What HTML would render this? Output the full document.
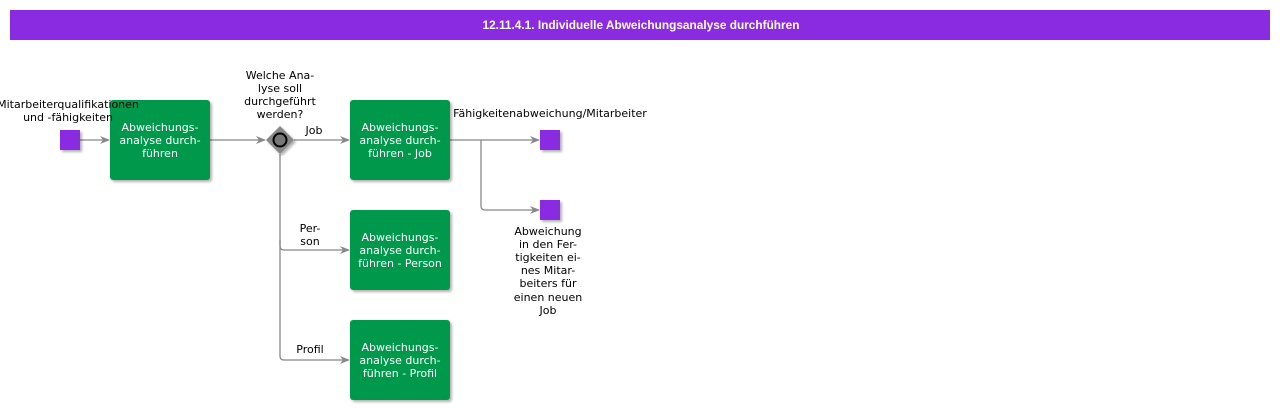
<!DOCTYPE html>
<html><head><meta charset="utf-8"><style>
html,body{margin:0;padding:0;background:#fff;width:1280px;height:410px;overflow:hidden}
svg text{font-family:"DejaVu Sans","Liberation Sans",sans-serif;font-size:11px}
</style></head><body>
<svg width="1280" height="410" xmlns="http://www.w3.org/2000/svg">
<defs>
<filter id="sh" x="-20%" y="-20%" width="150%" height="150%"><feDropShadow dx="2" dy="2" stdDeviation="1.2" flood-color="#000" flood-opacity="0.3"/></filter>
<marker id="ar" markerWidth="10" markerHeight="8" refX="9" refY="4" orient="auto" markerUnits="userSpaceOnUse"><path d="M0,0 L10,4 L0,8 L3,4 z" fill="#888"/></marker>
</defs>
<rect x="10" y="10" width="1260" height="30" fill="#8a2be2"/>
<text x="641" y="29" text-anchor="middle" fill="#fff" style="font-family:'Liberation Sans',sans-serif;font-weight:bold;font-size:12px" textLength="317" lengthAdjust="spacingAndGlyphs">12.11.4.1. Individuelle Abweichungsanalyse durchführen</text>

<g stroke="#888" stroke-width="1.3" fill="none">
<line x1="80" y1="140" x2="109" y2="140" marker-end="url(#ar)"/>
<line x1="210" y1="140" x2="265" y2="140" marker-end="url(#ar)"/>
<line x1="294" y1="140" x2="349" y2="140" marker-end="url(#ar)"/>
<path d="M280,154 V246 q0,4 4,4 H349" marker-end="url(#ar)"/>
<path d="M280,240 V356 q0,4 4,4 H349" marker-end="url(#ar)"/>
<line x1="450" y1="140" x2="539" y2="140" marker-end="url(#ar)"/>
<path d="M481,140 V206 q0,4 4,4 H539" marker-end="url(#ar)"/>
</g>

<g fill="#8a2be2" filter="url(#sh)">
<rect x="60" y="130" width="20" height="20"/>
<rect x="540" y="130" width="20" height="20"/>
<rect x="540" y="200" width="20" height="20"/>
</g>
<g fill="#00994c" filter="url(#sh)">
<rect x="110" y="100" width="100" height="80" rx="3"/>
<rect x="350" y="100" width="100" height="80" rx="3"/>
<rect x="350" y="210" width="100" height="80" rx="3"/>
<rect x="350" y="320" width="100" height="80" rx="3"/>
</g>
<path d="M280,126 L294,140 L280,154 L266,140 z" fill="#888" filter="url(#sh)"/>
<circle cx="280" cy="140" r="6.5" fill="#777" stroke="#000" stroke-width="2"/>

<g fill="#fff" text-anchor="middle">
<text x="160" y="131">Abweichungs-</text><text x="160" y="144">analyse durch-</text><text x="160" y="157">führen</text>
<text x="400" y="131">Abweichungs-</text><text x="400" y="144">analyse durch-</text><text x="400" y="157">führen - Job</text>
<text x="400" y="241">Abweichungs-</text><text x="400" y="254">analyse durch-</text><text x="400" y="267">führen - Person</text>
<text x="400" y="351">Abweichungs-</text><text x="400" y="364">analyse durch-</text><text x="400" y="377">führen - Profil</text>
</g>
<g fill="#000" text-anchor="middle">
<text x="68" y="108">Mitarbeiterqualifikationen</text><text x="68" y="121">und -fähigkeiten</text>
<text x="280" y="79">Welche Ana-</text><text x="280" y="92">lyse soll</text><text x="280" y="105">durchgeführt</text><text x="280" y="118">werden?</text>
<text x="314" y="134">Job</text>
<text x="310" y="232">Per-</text><text x="310" y="245">son</text>
<text x="310" y="353">Profil</text>
<text x="550" y="117">Fähigkeitenabweichung/Mitarbeiter</text>
<text x="548" y="235">Abweichung</text><text x="548" y="248">in den Fer-</text><text x="548" y="261">tigkeiten ei-</text><text x="548" y="274">nes Mitar-</text><text x="548" y="287">beiters für</text><text x="548" y="301">einen neuen</text><text x="548" y="314">Job</text>
</g>
</svg>
</body></html>
